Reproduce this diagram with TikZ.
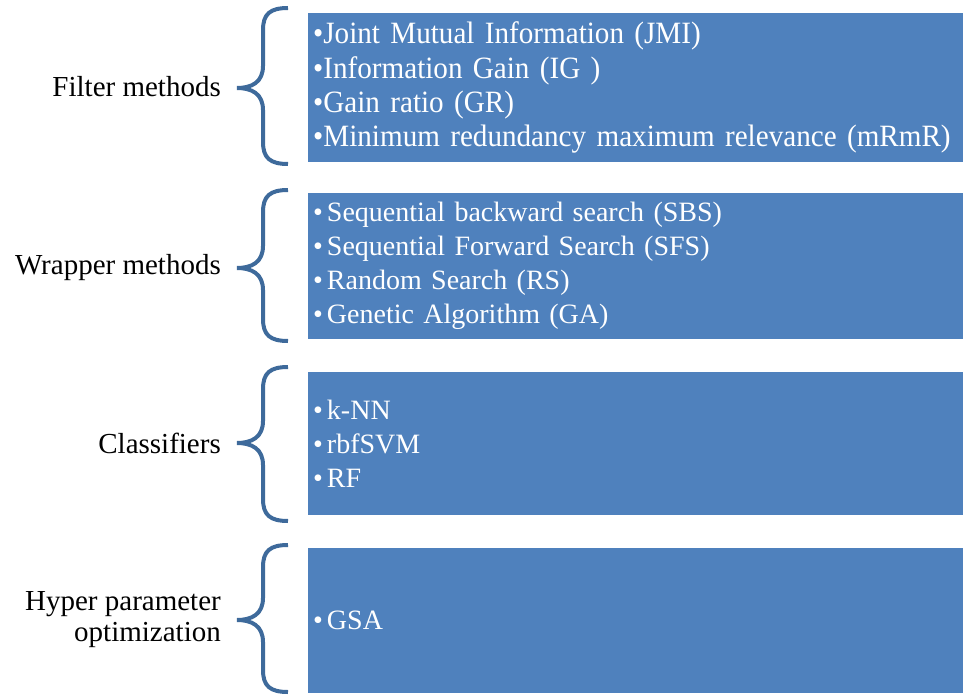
\documentclass[tikz,border=0pt]{standalone}
\usepackage{fontspec}
\setmainfont{Liberation Serif}
\newfontfamily\condserif[FakeStretch=0.94]{Liberation Serif}
\definecolor{boxblue}{RGB}{79,129,189}
\definecolor{braceblue}{RGB}{62,106,155}

% curly brace: top y, tip y, bottom y
\newcommand\catbrace[3]{%
  \draw[bracestroke] (288,#1) .. controls (270,#1) and (263,{#1+6}) .. (263,{#1+22})
    -- (263,{#2-22}) .. controls (263,{#2-6}) and (252,#2) .. (237,#2)
    .. controls (252,#2) and (263,{#2+6}) .. (263,{#2+22})
    -- (263,{#3-22}) .. controls (263,{#3-6}) and (270,#3) .. (288,#3);}

\begin{document}
\begin{tikzpicture}[x=1pt,y=-1pt,
  catbox/.style={fill=boxblue, draw=none, anchor=north west, inner xsep=5pt, inner ysep=0pt,
    align=left, text=white, text width=645pt, minimum width=655pt,
    font=\fontsize{28}{34}\selectfont},
  catlabel/.style={anchor=east, align=right, inner sep=0pt, font=\fontsize{29}{31}\selectfont},
  bracestroke/.style={draw=braceblue, line width=4pt}]
\useasboundingbox (0,0) rectangle (963,695);

% category boxes
\node[catbox, minimum height=149pt, font=\condserif\fontsize{31}{34.3}\selectfont] (filter) at (308,13)
  {•Joint Mutual Information (JMI)\\
   •Information Gain (IG )\\
   •Gain ratio (GR)\\
   •Minimum redundancy maximum relevance (mRmR)};
\node[catbox, minimum height=146pt] (wrapper) at (308,193)
  {•\hspace{4pt}Sequential backward search (SBS)\\
   •\hspace{4pt}Sequential Forward Search (SFS)\\
   •\hspace{4pt}Random Search (RS)\\
   •\hspace{4pt}Genetic Algorithm (GA)};
\node[catbox, minimum height=143pt] (classif) at (308,372)
  {•\hspace{4pt}k-NN\\
   •\hspace{4pt}rbfSVM\\
   •\hspace{4pt}RF};
\node[catbox, minimum height=145pt] (hyper) at (308,548)
  {•\hspace{4pt}GSA};

% braces
\catbrace{8}{88}{164}
\catbrace{190}{268}{341}
\catbrace{367}{443}{521}
\catbrace{545}{620}{692}

% category labels
\node[catlabel] (lfilter) at (221,87) {Filter methods};
\node[catlabel] (lwrapper) at (221,268) {Wrapper methods};
\node[catlabel] (lclassif) at (221,443) {Classifiers};
\node[catlabel] (lhyper) at (221,620) {Hyper parameter\\optimization};
\end{tikzpicture}
\end{document}
